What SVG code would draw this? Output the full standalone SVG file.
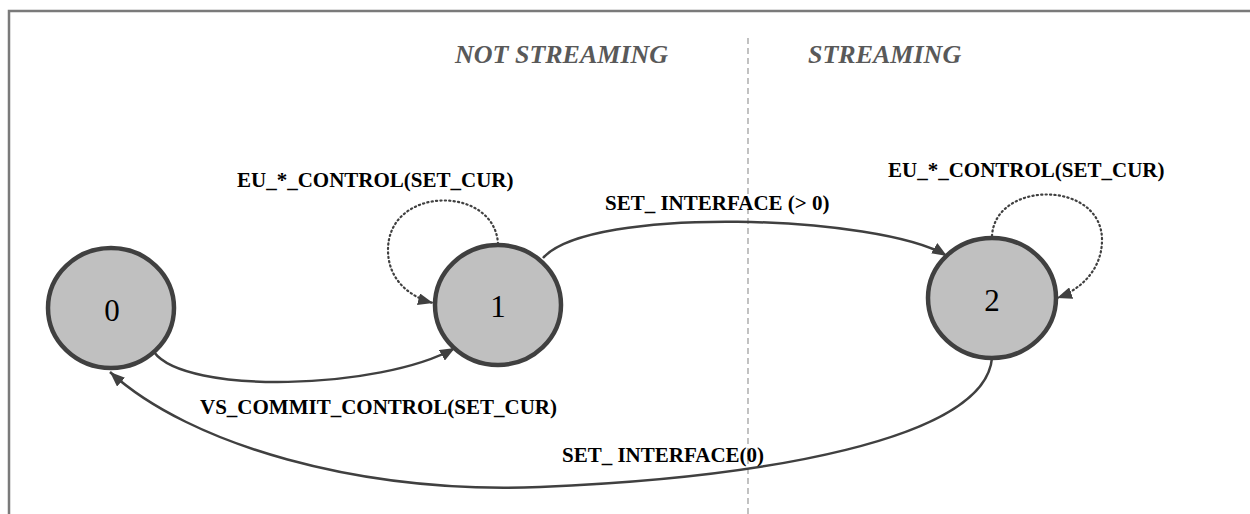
<svg xmlns="http://www.w3.org/2000/svg" width="1250" height="514" viewBox="0 0 1250 514">
<style>
.node{fill:#c0c0c0;stroke:#404040;stroke-width:4.5}
.num{font-family:"Liberation Serif",serif;font-size:31px;fill:#000;text-anchor:middle}
.lbl{font-family:"Liberation Serif",serif;font-size:21px;font-weight:bold;fill:#000}
.hdr{font-family:"Liberation Serif",serif;font-size:26px;font-weight:bold;font-style:italic;fill:#595959}
.edge{fill:none;stroke:#404040;stroke-width:2.5}
.dot{fill:none;stroke:#404040;stroke-width:2.2;stroke-dasharray:1.2,3.2;stroke-linecap:round}
</style>
<defs>
<marker id="arr" markerUnits="userSpaceOnUse" markerWidth="16" markerHeight="12" refX="15" refY="6" orient="auto">
<path d="M0,0 L15,6 L0,12 z" fill="#404040"/>
</marker>
</defs>
<g id="frame">
<path d="M9,514 L9,11 L1250,11" fill="none" stroke="#7a7a7a" stroke-width="2.5"/>
<line x1="748" y1="38" x2="748" y2="514" stroke="#999" stroke-width="1.2" stroke-dasharray="6,4"/>
<text class="hdr" x="455" y="63">NOT STREAMING</text>
<text class="hdr" x="808" y="63">STREAMING</text>
</g>
<g id="connectors">
<path class="edge" d="M154,352 C185,395 380,390 455,348" marker-end="url(#arr)"/>
<path class="edge" d="M543,258 C590,205 880,215 947,256" marker-end="url(#arr)"/>
<path class="edge" d="M992,358 C985,440 760,478 540,487 C360,494 190,445 110,372" marker-end="url(#arr)"/>
<path class="dot" d="M498,244 C495,185 388,185 388,250 C388,280 410,297 433,303" marker-end="url(#arr)"/>
<path class="dot" d="M992,236 C995,180 1102,180 1102,240 C1102,270 1080,290 1057,298" marker-end="url(#arr)"/>
<text class="lbl" x="237" y="187">EU_*_CONTROL(SET_CUR)</text>
<text class="lbl" x="888" y="177">EU_*_CONTROL(SET_CUR)</text>
<text class="lbl" x="605" y="210">SET_ INTERFACE (&gt; 0)</text>
<text class="lbl" x="200" y="414">VS_COMMIT_CONTROL(SET_CUR)</text>
<text class="lbl" x="562" y="462">SET_ INTERFACE(0)</text>
</g>
<g id="node0">
<ellipse class="node" cx="111" cy="308" rx="63" ry="60"/>
<text class="num" x="112" y="321">0</text>
</g>
<g id="node1">
<ellipse class="node" cx="498" cy="305" rx="63" ry="60"/>
<text class="num" x="498" y="317">1</text>
</g>
<g id="node2">
<ellipse class="node" cx="992" cy="298" rx="64" ry="60"/>
<text class="num" x="992" y="311">2</text>
</g>
</svg>
